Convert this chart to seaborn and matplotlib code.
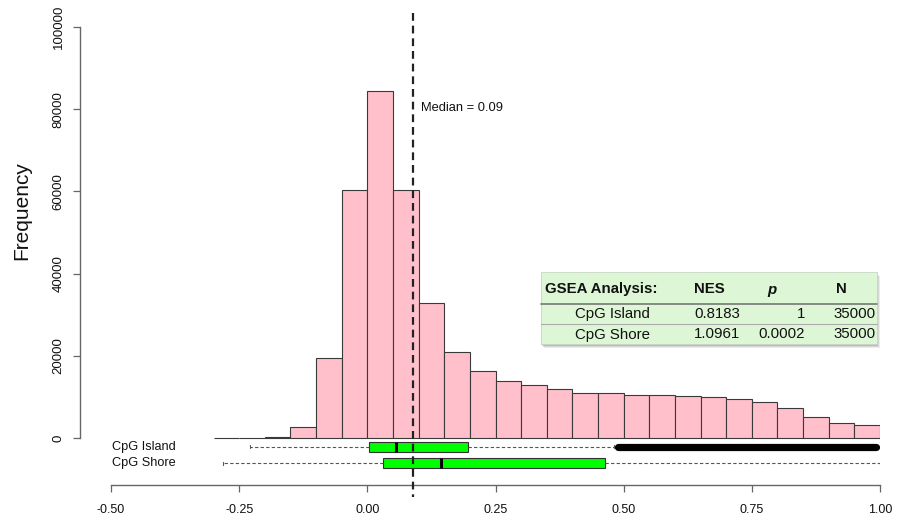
import numpy as np
import pandas as pd
import matplotlib
matplotlib.use("Agg")
import matplotlib.pyplot as plt
from matplotlib.patches import Rectangle
from matplotlib.lines import Line2D
import seaborn as sns

# ---------------- data ----------------
bin_edges = [round(-0.30 + 0.05 * i, 2) for i in range(27)]
bin_counts = [0, 0, 350, 2750, 19540, 60340, 84430, 60340, 32920, 21000,
              16380, 13870, 12900, 11900, 11000, 10870, 10380, 10380, 10220,
              9975, 9570, 8760, 7220, 5030, 3650, 3080]
median_value = 0.09

box_labels = ["CpG Island", "CpG Shore"]
box_whislo = [-0.229, -0.281]
box_q1 = [0.004, 0.030]
box_med = [0.055, 0.143]
box_q3 = [0.197, 0.464]
box_whishi = [0.482, 1.0]
island_outlier_span = [0.488, 0.993]

x_ticks = [-0.50, -0.25, 0.00, 0.25, 0.50, 0.75, 1.00]
y_ticks = [0, 20000, 40000, 60000, 80000, 100000]

table_header = ["GSEA Analysis:", "NES", "p", "N"]
table_rows = [["CpG Island", "0.8183", "1", "35000"],
              ["CpG Shore", "1.0961", "0.0002", "35000"]]

# ---------------- figure ----------------
sns.set_theme(style="white")
plt.rcParams["font.family"] = ["Liberation Sans", "DejaVu Sans"]

W, H = 897, 522
fig = plt.figure(figsize=(W / 100, H / 100), dpi=100)
px_left, px_right, px_top, px_bot = 111, 880, 27, 485
ax = fig.add_axes([px_left / W, 1 - px_bot / H, (px_right - px_left) / W, (px_bot - px_top) / H])
units_per_px = 100000 / (438 - px_top)
ax.set_xlim(-0.5, 1.0)
ax.set_ylim(-(px_bot - 438) * units_per_px, 100000)

centers = [(bin_edges[i] + bin_edges[i + 1]) / 2 for i in range(len(bin_counts))]
df = pd.DataFrame({"x": centers, "w": bin_counts})
sns.histplot(data=df, x="x", weights="w", bins=bin_edges, color="#FFC0CB",
             edgecolor="#3a3a3a", linewidth=0.8, alpha=1, ax=ax)

# boxplots
pos = [-(446.7 - 438) * units_per_px, -(463.3 - 438) * units_per_px]
stats = []
for i in range(2):
    stats.append(dict(label=box_labels[i], whislo=box_whislo[i], q1=box_q1[i],
                      med=box_med[i], q3=box_q3[i], whishi=box_whishi[i], fliers=[]))
bkw = dict(positions=pos, widths=10 * units_per_px, patch_artist=True,
           showfliers=False, capwidths=3 * units_per_px,
           boxprops=dict(facecolor="#00FF00", edgecolor="#333333", linewidth=0.8),
           medianprops=dict(color="black", linewidth=2.2),
           whiskerprops=dict(color="#555555", linewidth=0.8, linestyle=(0, (3, 2))),
           capprops=dict(color="#555555", linewidth=0.8), manage_ticks=False)
try:
    ax.bxp(stats, orientation="horizontal", **bkw)
except TypeError:
    ax.bxp(stats, vert=False, **bkw)

ax.plot(island_outlier_span, [pos[0], pos[0]], color="black", linewidth=5.2,
        solid_capstyle="round", zorder=4)

for lab, p in zip(box_labels, pos):
    ax.text(-0.498, p, lab, ha="left", va="center", fontsize=9.2, color="#111111")

# median line
ax.plot([median_value, median_value], [(438 - 13) * units_per_px, -(497 - 438) * units_per_px],
        color="#222222", linewidth=1.6, linestyle=(0, (3.5, 2.2)), clip_on=False, zorder=5)
ax.text(0.105, (438 - 108) * units_per_px, f"Median = {median_value:.2f}",
        ha="left", va="center", fontsize=9.3, color="#111111")

# axes styling
for s in ["top", "right"]:
    ax.spines[s].set_visible(False)
ax.spines["left"].set_position(("outward", (px_left - 80) * 0.72))
ax.spines["left"].set_bounds(0, 100000)
ax.spines["bottom"].set_bounds(-0.5, 1.0)
for s in ["left", "bottom"]:
    ax.spines[s].set_color("#666666")
    ax.spines[s].set_linewidth(1.0)
ax.set_xticks(x_ticks)
ax.set_xticklabels([f"{t:.2f}" for t in x_ticks])
ax.set_yticks(y_ticks)
ax.set_yticklabels([str(t) for t in y_ticks], rotation=90, va="center")
ax.tick_params(axis="both", which="both", length=5, width=0.9, color="#666666",
               labelsize=9, labelcolor="#111111", left=True, bottom=True)
ax.tick_params(axis="x", pad=8.5)
ax.tick_params(axis="y", pad=6, labelsize=9.5)
ax.set_xlabel("")
ax.set_ylabel("")
ax.grid(False)
fig.text(22 / W, 1 - 211 / H, "Frequency", rotation=90, ha="center", va="center",
         fontsize=15, color="#111111")

# table
def fx(p):
    return p / W

def fy(p):
    return 1 - p / H

tx0, tx1, ty0, ty1 = 541, 877, 272, 344
for k, a in [(4, 0.10), (3, 0.15), (2, 0.2), (1, 0.25)]:
    fig.add_artist(Rectangle((fx(tx0 + k - 1), fy(ty1 + k)), fx(tx1 - tx0), (ty1 - ty0) / H,
                             facecolor="#555555", edgecolor="none", alpha=a, zorder=8))
fig.add_artist(Rectangle((fx(tx0), fy(ty1)), fx(tx1 - tx0), (ty1 - ty0) / H,
                         facecolor="#DDF6D6", edgecolor="#c8d8c4", linewidth=0.6, zorder=9))
fig.add_artist(Line2D([fx(tx0), fx(tx1)], [fy(303.5), fy(303.5)], color="#777777",
                      linewidth=1.2, zorder=10))
fig.add_artist(Line2D([fx(tx0), fx(tx1)], [fy(324.3), fy(324.3)], color="#aaaaaa",
                      linewidth=0.8, zorder=10))

hy = 289
tfs = 10.8
fig.text(fx(545), fy(hy), table_header[0], ha="left", va="center", fontsize=tfs,
         fontweight="bold", color="#111111", zorder=11)
fig.text(fx(709), fy(hy), table_header[1], ha="center", va="center", fontsize=tfs,
         fontweight="bold", color="#111111", zorder=11)
fig.text(fx(772), fy(hy + 1), table_header[2], ha="center", va="center", fontsize=tfs,
         fontweight="bold", style="italic", color="#111111", zorder=11)
fig.text(fx(841), fy(hy), table_header[3], ha="center", va="center", fontsize=tfs,
         fontweight="bold", color="#111111", zorder=11)
for r, yy in zip(table_rows, [314, 334.5]):
    fig.text(fx(650), fy(yy), r[0], ha="right", va="center", fontsize=tfs, color="#111111", zorder=11)
    fig.text(fx(694), fy(yy), r[1], ha="left", va="center", fontsize=tfs, color="#111111", zorder=11)
    fig.text(fx(805), fy(yy), r[2], ha="right", va="center", fontsize=tfs, color="#111111", zorder=11)
    fig.text(fx(876), fy(yy), r[3], ha="right", va="center", fontsize=tfs, color="#111111", zorder=11)

fig.savefig("out.png", dpi=100)
